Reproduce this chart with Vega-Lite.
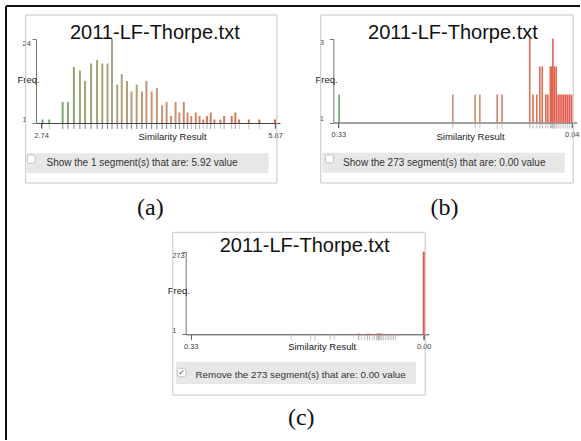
{
  "$schema": "https://vega.github.io/schema/vega-lite/v6.json",
  "width": 581,
  "height": 441,
  "autosize": {"type": "none"},
  "padding": 0,
  "background": "white",
  "config": {
    "view": {"stroke": null},
    "axis": {"grid": false, "labelFont": "Liberation Sans", "titleFont": "Liberation Sans"},
    "text": {"font": "Liberation Sans"}
  },
  "datasets": {
    "a": [
      {"value": 2.76, "count": 1}, {"value": 2.85, "count": 1}, {"value": 3.03, "count": 6}, {"value": 3.10, "count": 6},
      {"value": 3.18, "count": 16}, {"value": 3.26, "count": 15}, {"value": 3.33, "count": 12}, {"value": 3.41, "count": 17},
      {"value": 3.49, "count": 18}, {"value": 3.56, "count": 17}, {"value": 3.63, "count": 17}, {"value": 3.69, "count": 24},
      {"value": 3.76, "count": 11}, {"value": 3.82, "count": 14}, {"value": 3.89, "count": 12}, {"value": 3.95, "count": 9},
      {"value": 4.02, "count": 11}, {"value": 4.09, "count": 9}, {"value": 4.15, "count": 12}, {"value": 4.22, "count": 9},
      {"value": 4.29, "count": 10}, {"value": 4.36, "count": 5}, {"value": 4.42, "count": 6}, {"value": 4.48, "count": 2},
      {"value": 4.54, "count": 6}, {"value": 4.59, "count": 3}, {"value": 4.65, "count": 6}, {"value": 4.70, "count": 3},
      {"value": 4.75, "count": 2}, {"value": 4.81, "count": 3}, {"value": 4.86, "count": 2}, {"value": 4.91, "count": 1},
      {"value": 4.96, "count": 2}, {"value": 5.01, "count": 3}, {"value": 5.06, "count": 1}, {"value": 5.14, "count": 1},
      {"value": 5.19, "count": 2}, {"value": 5.29, "count": 2}, {"value": 5.34, "count": 3}, {"value": 5.39, "count": 1},
      {"value": 5.52, "count": 1}, {"value": 5.66, "count": 1}, {"value": 5.87, "count": 1}
    ],
    "b": [
      {"value": 0.329, "count": 1}, {"value": 0.1877, "count": 1}, {"value": 0.160, "count": 1}, {"value": 0.1541, "count": 1},
      {"value": 0.1326, "count": 1}, {"value": 0.1266, "count": 1}, {"value": 0.0921, "count": 3}, {"value": 0.0881, "count": 1},
      {"value": 0.0834, "count": 1}, {"value": 0.0796, "count": 2}, {"value": 0.0766, "count": 2}, {"value": 0.0722, "count": 1},
      {"value": 0.0697, "count": 1}, {"value": 0.0665, "count": 2}, {"value": 0.0647, "count": 2}, {"value": 0.0634, "count": 3},
      {"value": 0.0617, "count": 2}, {"value": 0.0593, "count": 2}, {"value": 0.0569, "count": 1}, {"value": 0.0545, "count": 1},
      {"value": 0.0521, "count": 1}, {"value": 0.0498, "count": 1}, {"value": 0.0474, "count": 1}, {"value": 0.0450, "count": 1},
      {"value": 0.0426, "count": 1}, {"value": 0.0402, "count": 1}
    ],
    "c": [
      {"value": 0.329, "count": 1}, {"value": 0.1877, "count": 1}, {"value": 0.160, "count": 1}, {"value": 0.1541, "count": 1},
      {"value": 0.1326, "count": 1}, {"value": 0.1266, "count": 1}, {"value": 0.0921, "count": 3}, {"value": 0.0881, "count": 1},
      {"value": 0.0834, "count": 1}, {"value": 0.0796, "count": 2}, {"value": 0.0766, "count": 2}, {"value": 0.0722, "count": 1},
      {"value": 0.0697, "count": 1}, {"value": 0.0665, "count": 2}, {"value": 0.0647, "count": 2}, {"value": 0.0634, "count": 3},
      {"value": 0.0617, "count": 2}, {"value": 0.0593, "count": 2}, {"value": 0.0569, "count": 1}, {"value": 0.0545, "count": 1},
      {"value": 0.0521, "count": 1}, {"value": 0.0498, "count": 1}, {"value": 0.0474, "count": 1}, {"value": 0.0450, "count": 1},
      {"value": 0.0426, "count": 1}, {"value": 0.0402, "count": 1}, {"value": 0.0, "count": 273}
    ]
  },
  "layer": [
    {
      "data": {"values": [{}]},
      "layer": [
        {
          "mark": {"type": "rule", "color": "#111", "strokeWidth": 2},
          "encoding": {
            "x": {"datum": 0, "type": "quantitative", "scale": {"domain": [0, 1], "range": [6, 580], "nice": false, "zero": false}, "axis": null},
            "x2": {"datum": 1},
            "y": {"datum": 0, "type": "quantitative", "scale": {"domain": [0, 1], "range": [6, 440], "nice": false, "zero": false}, "axis": null}
          }
        },
        {
          "mark": {"type": "rule", "color": "#111", "strokeWidth": 2},
          "encoding": {
            "x": {"datum": 0, "type": "quantitative"},
            "y": {"datum": 0, "type": "quantitative"},
            "y2": {"datum": 1}
          }
        }
      ]
    },
    {
      "layer": [
        {
          "data": {"values": [{}]},
          "mark": {"type": "rect", "filled": false, "color": "#c6c6c6", "strokeWidth": 1},
          "encoding": {"x": {"datum": 2.5348}, "x2": {"datum": 5.8956}, "y": {"datum": 30.857}, "y2": {"datum": -17.143}}
        },
        {
          "data": {"values": [{}]},
          "mark": {"type": "rect", "color": "#e7e7e7"},
          "encoding": {"x": {"datum": 2.5476}, "x2": {"datum": 5.7841}, "y": {"datum": -8.657}, "y2": {"datum": -14.371}}
        },
        {
          "data": {"values": [{}]},
          "mark": {"type": "rect", "fill": "white", "stroke": "#b5b5b5", "strokeWidth": 0.8, "cornerRadius": 2},
          "encoding": {"x": {"datum": 2.5566}, "x2": {"datum": 2.6630}, "y": {"datum": -9.143}, "y2": {"datum": -11.514}}
        },
        {
          "data": {"values": [{}]},
          "mark": {"type": "text", "text": "Show the 1 segment(s) that are: 5.92 value", "fontSize": 10, "color": "#333", "align": "left", "baseline": "middle"},
          "encoding": {"x": {"datum": 2.8131}, "y": {"datum": -11.571}}
        },
        {
          "data": {"values": [{}]},
          "mark": {"type": "text", "text": "2011-LF-Thorpe.txt", "fontSize": 20, "color": "#111", "align": "center", "baseline": "alphabetic"},
          "encoding": {"x": {"datum": 4.2627}, "y": {"datum": 24}}
        },
        {
          "data": {"values": [{}]},
          "mark": {"type": "text", "text": "(a)", "font": "Liberation Serif", "fontSize": 24, "color": "#111", "align": "center", "baseline": "middle"},
          "encoding": {"x": {"datum": 4.2024}, "y": {"datum": -24.286}}
        },
        {
          "data": {"name": "a"},
          "mark": {"type": "rule", "color": "#808080", "strokeWidth": 1},
          "encoding": {
            "x": {"field": "value", "type": "quantitative"},
            "y": {"datum": -0.29},
            "y2": {"datum": -1.71},
            "opacity": {"field": "count", "type": "quantitative", "scale": {"domain": [1, 5], "range": [0.45, 1], "clamp": true}, "legend": null}
          }
        },
        {
          "data": {"name": "a"},
          "mark": {"type": "bar", "width": 2},
          "encoding": {
            "x": {
              "field": "value", "type": "quantitative",
              "scale": {"domain": [2.74, 5.87], "range": [36, 280], "nice": false, "zero": false},
              "axis": {"orient": "bottom", "offset": -318, "values": [2.74, 5.87], "format": ".2f", "labelFlush": true, "labelFlushOffset": -3,
                "tickSize": 5, "labelPadding": 3, "labelFontSize": 7.5, "labelColor": "#444", "tickColor": "#555", "domainColor": "#444",
                "title": "Similarity Result", "titleFontSize": 9.5, "titleFontWeight": "normal", "titleColor": "#222",
                "titleX": 172, "titleY": 13.5, "titleBaseline": "middle", "titleAlign": "center"}
            },
            "y": {
              "field": "count", "type": "quantitative",
              "scale": {"domain": [0, 24], "range": [123, 39], "nice": false},
              "axis": {"orient": "left", "offset": -36, "values": [0, 24], "format": "d", "labelExpr": "datum.value == 0 ? '1' : datum.label", "labelFlush": true,
                "labelAlign": "left", "tickSize": 4, "labelPadding": 10, "labelFontSize": 7.5, "labelColor": "#444", "tickColor": "#777", "domainColor": "#777",
                "title": "Freq.", "titleAngle": 0, "titleAlign": "left", "titleBaseline": "middle", "titleX": -19, "titleY": 79,
                "titleFontSize": 9.5, "titleFontWeight": "normal", "titleColor": "#222"}
            },
            "color": {"field": "value", "type": "quantitative", "scale": {"type": "linear", "domain": [2.74, 3.70, 4.305, 5.87], "range": ["#66a86c", "#a9a484", "#c99478", "#e4564a"]}, "legend": null}
          }
        }
      ]
    },
    {
      "layer": [
        {
          "data": {"values": [{}]},
          "mark": {"type": "rect", "filled": false, "color": "#c6c6c6", "strokeWidth": 1},
          "encoding": {"x": {"datum": 0.35181}, "x2": {"datum": 0.038094}, "y": {"datum": 3.8393}, "y2": {"datum": -2.1607}}
        },
        {
          "data": {"values": [{}]},
          "mark": {"type": "rect", "color": "#e7e7e7"},
          "encoding": {"x": {"datum": 0.34978}, "x2": {"datum": 0.048817}, "y": {"datum": -1.0786}, "y2": {"datum": -1.7929}}
        },
        {
          "data": {"values": [{}]},
          "mark": {"type": "rect", "fill": "white", "stroke": "#b5b5b5", "strokeWidth": 0.8, "cornerRadius": 2},
          "encoding": {"x": {"datum": 0.34585}, "x2": {"datum": 0.33596}, "y": {"datum": -1.1607}, "y2": {"datum": -1.4464}}
        },
        {
          "data": {"values": [{}]},
          "mark": {"type": "text", "text": "Show the 273 segment(s) that are: 0.00 value", "fontSize": 10, "color": "#333", "align": "left", "baseline": "middle"},
          "encoding": {"x": {"datum": 0.32404}, "y": {"datum": -1.4571}}
        },
        {
          "data": {"values": [{}]},
          "mark": {"type": "text", "text": "2011-LF-Thorpe.txt", "fontSize": 20, "color": "#111", "align": "center", "baseline": "alphabetic"},
          "encoding": {"x": {"datum": 0.18762}, "y": {"datum": 3}}
        },
        {
          "data": {"values": [{}]},
          "mark": {"type": "text", "text": "(b)", "font": "Liberation Serif", "fontSize": 24, "color": "#111", "align": "center", "baseline": "middle"},
          "encoding": {"x": {"datum": 0.19811}, "y": {"datum": -3.0536}}
        },
        {
          "data": {"name": "b"},
          "mark": {"type": "rule", "color": "#808080", "strokeWidth": 1},
          "encoding": {
            "x": {"field": "value", "type": "quantitative"},
            "y": {"datum": -0.036},
            "y2": {"datum": -0.214},
            "opacity": {"field": "count", "type": "quantitative", "scale": {"domain": [1, 5], "range": [0.45, 1], "clamp": true}, "legend": null}
          }
        },
        {
          "data": {"name": "b"},
          "mark": {"type": "bar", "width": 1.6},
          "encoding": {
            "x": {
              "field": "value", "type": "quantitative",
              "scale": {"domain": [0.04, 0.33], "range": [576.7, 333.3], "nice": false, "zero": false},
              "axis": {"orient": "bottom", "offset": -318.5, "values": [0.04, 0.33], "format": ".2f", "labelFlush": true, "labelFlushOffset": -3,
                "tickSize": 5, "labelPadding": 3, "labelFontSize": 7.5, "labelColor": "#444", "tickColor": "#555", "domainColor": "#444",
                "title": "Similarity Result", "titleFontSize": 9.5, "titleFontWeight": "normal", "titleColor": "#222",
                "titleX": 470, "titleY": 13.5, "titleBaseline": "middle", "titleAlign": "center"}
            },
            "y": {
              "field": "count", "type": "quantitative",
              "scale": {"domain": [0, 3], "range": [122.5, 38.5], "nice": false},
              "axis": {"orient": "left", "offset": -333.3, "values": [0, 3], "format": "d", "labelExpr": "datum.value == 0 ? '1' : datum.label", "labelFlush": true,
                "labelAlign": "left", "tickSize": 4, "labelPadding": 10, "labelFontSize": 7.5, "labelColor": "#444", "tickColor": "#777", "domainColor": "#777",
                "title": "Freq.", "titleAngle": 0, "titleAlign": "left", "titleBaseline": "middle", "titleX": -18.3, "titleY": 79,
                "titleFontSize": 9.5, "titleFontWeight": "normal", "titleColor": "#222"}
            },
            "color": {"field": "value", "type": "quantitative", "scale": {"type": "linear", "domain": [0.04, 0.185, 0.241, 0.33], "range": ["#e4564a", "#c99478", "#a9a484", "#58a46e"]}, "legend": null}
          }
        }
      ]
    },
    {
      "layer": [
        {
          "data": {"values": [{}]},
          "mark": {"type": "rect", "filled": false, "color": "#c6c6c6", "strokeWidth": 1},
          "encoding": {"x": {"datum": 0.3554}, "x2": {"datum": -0.00217}, "y": {"datum": 337.12}, "y2": {"datum": -200.62}}
        },
        {
          "data": {"values": [{}]},
          "mark": {"type": "rect", "color": "#e7e7e7"},
          "encoding": {"x": {"datum": 0.35132}, "x2": {"datum": 0.010864}, "y": {"datum": -90.56}, "y2": {"datum": -164.27}}
        },
        {
          "data": {"values": [{}]},
          "mark": {"type": "rect", "fill": "white", "stroke": "#b5b5b5", "strokeWidth": 0.8, "cornerRadius": 2},
          "encoding": {"x": {"datum": 0.34901}, "x2": {"datum": 0.33679}, "y": {"datum": -112.37}, "y2": {"datum": -140.14}}
        },
        {
          "data": {"values": [{}]},
          "mark": {"type": "text", "text": "✓", "font": "DejaVu Sans", "fontSize": 8, "color": "#333", "align": "center", "baseline": "middle"},
          "encoding": {"x": {"datum": 0.3429}, "y": {"datum": -126.26}}
        },
        {
          "data": {"values": [{}]},
          "mark": {"type": "text", "text": "Remove the 273 segment(s) that are: 0.00 value", "fontSize": 9.8, "color": "#333", "align": "left", "baseline": "middle"},
          "encoding": {"x": {"datum": 0.32321}, "y": {"datum": -134.52}}
        },
        {
          "data": {"values": [{}]},
          "mark": {"type": "text", "text": "2011-LF-Thorpe.txt", "fontSize": 20, "color": "#111", "align": "center", "baseline": "alphabetic"},
          "encoding": {"x": {"datum": 0.16867}, "y": {"datum": 273}}
        },
        {
          "data": {"values": [{}]},
          "mark": {"type": "text", "text": "(c)", "font": "Liberation Serif", "fontSize": 24, "color": "#111", "align": "center", "baseline": "middle"},
          "encoding": {"x": {"datum": 0.17342}, "y": {"datum": -277.63}}
        },
        {
          "data": {"name": "c"},
          "mark": {"type": "rule", "color": "#808080", "strokeWidth": 1},
          "encoding": {
            "x": {"field": "value", "type": "quantitative"},
            "y": {"datum": -3.3},
            "y2": {"datum": -19.8},
            "opacity": {"field": "count", "type": "quantitative", "scale": {"domain": [1, 5], "range": [0.45, 1], "clamp": true}, "legend": null}
          }
        },
        {
          "data": {"name": "c"},
          "mark": {"type": "bar", "width": 2},
          "encoding": {
            "x": {
              "field": "value", "type": "quantitative",
              "scale": {"domain": [0, 0.33], "range": [428.7, 185.7], "nice": false, "zero": false},
              "axis": {"orient": "bottom", "offset": -106.7, "values": [0, 0.33], "format": ".2f", "labelFlush": true, "labelFlushOffset": -3,
                "tickSize": 5, "labelPadding": 3, "labelFontSize": 7.5, "labelColor": "#444", "tickColor": "#555", "domainColor": "#444",
                "title": "Similarity Result", "titleFontSize": 9.5, "titleFontWeight": "normal", "titleColor": "#222",
                "titleX": 321.7, "titleY": 12.5, "titleBaseline": "middle", "titleAlign": "center"}
            },
            "y": {
              "field": "count", "type": "quantitative",
              "scale": {"domain": [0, 273], "range": [334.3, 251.7], "nice": false},
              "axis": {"orient": "left", "offset": -185.7, "values": [0, 273], "format": "d", "labelExpr": "datum.value == 0 ? '1' : datum.label", "labelFlush": true,
                "labelAlign": "left", "tickSize": 4, "labelPadding": 10, "labelFontSize": 7.5, "labelColor": "#444", "tickColor": "#777", "domainColor": "#777",
                "title": "Freq.", "titleAngle": 0, "titleAlign": "left", "titleBaseline": "middle", "titleX": -18.4, "titleY": 290,
                "titleFontSize": 9.5, "titleFontWeight": "normal", "titleColor": "#222"}
            },
            "color": {"field": "value", "type": "quantitative", "scale": {"type": "linear", "domain": [0, 0.165, 0.2287, 0.33], "range": ["#e4564a", "#c99478", "#a9a484", "#58a46e"]}, "legend": null}
          }
        }
      ]
    }
  ],
  "resolve": {
    "scale": {"x": "independent", "y": "independent", "color": "independent", "opacity": "independent"},
    "axis": {"x": "independent", "y": "independent"}
  }
}
